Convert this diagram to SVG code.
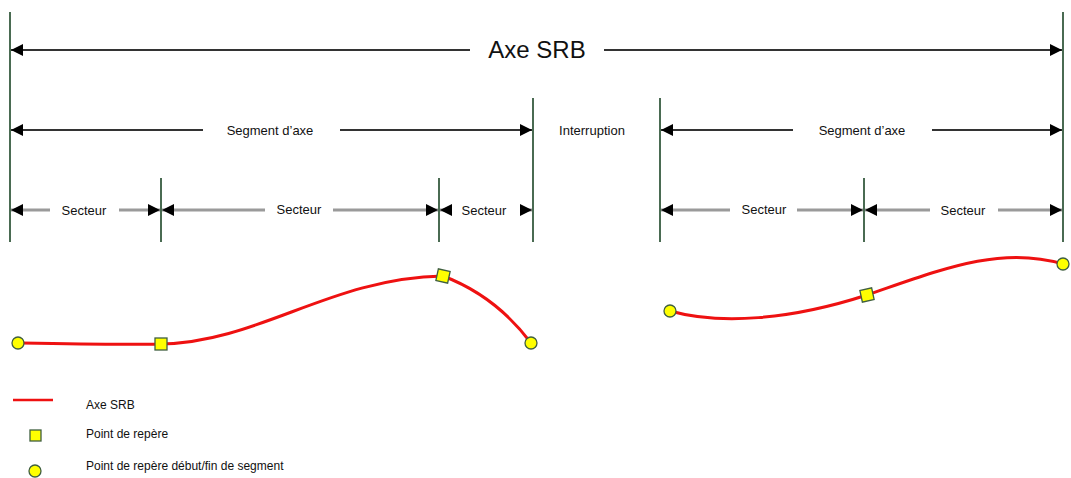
<svg xmlns="http://www.w3.org/2000/svg" width="1071" height="478" viewBox="0 0 1071 478">
<style>
.tick{stroke:#4a6b52;stroke-width:2}
.dim{stroke:#333;stroke-width:2;fill:none}
.sec{stroke:#9a9a9a;stroke-width:3;fill:none}
.t{font-family:"Liberation Sans",Arial,sans-serif;fill:#111}
.axe{stroke:#ee1111;stroke-width:3;fill:none}
.pt{fill:#ffff00;stroke:#3f5f3f;stroke-width:1.3}
</style>
<defs>
<marker id="ah" viewBox="0 0 10 10" refX="10" refY="5" markerWidth="12" markerHeight="14" markerUnits="userSpaceOnUse" orient="auto-start-reverse">
<path d="M0,0 L10,5 L0,10 Z" fill="#000"/>
</marker>
</defs>
<g id="ticks">
<line class="tick" x1="10" y1="12" x2="10" y2="242"/>
<line class="tick" x1="1063" y1="12" x2="1063" y2="242"/>
<line class="tick" x1="533" y1="98" x2="533" y2="242"/>
<line class="tick" x1="660" y1="98" x2="660" y2="242"/>
<line class="tick" x1="161" y1="178" x2="161" y2="242"/>
<line class="tick" x1="439" y1="178" x2="439" y2="242"/>
<line class="tick" x1="864" y1="178" x2="864" y2="242"/>
</g>
<g id="connectors">
<line class="dim" x1="11" y1="50" x2="470" y2="50" marker-start="url(#ah)"/>
<line class="dim" x1="604" y1="50" x2="1062" y2="50" marker-end="url(#ah)"/>
<line class="dim" x1="11" y1="130" x2="203" y2="130" marker-start="url(#ah)"/>
<line class="dim" x1="340" y1="130" x2="532" y2="130" marker-end="url(#ah)"/>
<line class="dim" x1="661" y1="130" x2="793" y2="130" marker-start="url(#ah)"/>
<line class="dim" x1="932" y1="130" x2="1062" y2="130" marker-end="url(#ah)"/>
<line class="sec" x1="11" y1="210" x2="50" y2="210" marker-start="url(#ah)"/>
<line class="sec" x1="119" y1="210" x2="160" y2="210" marker-end="url(#ah)"/>
<line class="sec" x1="162" y1="210" x2="265" y2="210" marker-start="url(#ah)"/>
<line class="sec" x1="333" y1="210" x2="438" y2="210" marker-end="url(#ah)"/>
<line class="sec" x1="440" y1="210" x2="448" y2="210" marker-start="url(#ah)"/>
<line class="sec" x1="520" y1="210" x2="532" y2="210" marker-end="url(#ah)"/>
<line class="sec" x1="661" y1="210" x2="730" y2="210" marker-start="url(#ah)"/>
<line class="sec" x1="797" y1="210" x2="863" y2="210" marker-end="url(#ah)"/>
<line class="sec" x1="865" y1="210" x2="930" y2="210" marker-start="url(#ah)"/>
<line class="sec" x1="998" y1="210" x2="1062" y2="210" marker-end="url(#ah)"/>
</g>
<g id="labels">
<text class="t" x="537" y="58" font-size="24" text-anchor="middle">Axe SRB</text>
<text class="t" x="270" y="135" font-size="13" text-anchor="middle">Segment d’axe</text>
<text class="t" x="592" y="135" font-size="13" text-anchor="middle">Interruption</text>
<text class="t" x="862" y="135" font-size="13" text-anchor="middle">Segment d’axe</text>
<text class="t" x="84" y="215" font-size="13" text-anchor="middle">Secteur</text>
<text class="t" x="299" y="214" font-size="13" text-anchor="middle">Secteur</text>
<text class="t" x="484" y="215" font-size="13" text-anchor="middle">Secteur</text>
<text class="t" x="764" y="214" font-size="13" text-anchor="middle">Secteur</text>
<text class="t" x="963" y="215" font-size="13" text-anchor="middle">Secteur</text>
</g>
<g id="axe-left">
<path class="axe" d="M18,343 C70,344 120,345 161,344 C260,342 330,278 443,276 C480,290 510,315 531,343"/>
<circle class="pt" cx="18" cy="343" r="6"/>
<rect class="pt" x="155" y="338" width="12" height="12"/>
<rect class="pt" x="437" y="270" width="12" height="12" transform="rotate(12 443 276)"/>
<circle class="pt" cx="531" cy="343" r="6"/>
</g>
<g id="axe-right">
<path class="axe" d="M670,311 C720,325 790,320 867,295 C940,270 1000,245 1063,264"/>
<circle class="pt" cx="670" cy="311" r="6"/>
<rect class="pt" x="861" y="289" width="12" height="12" transform="rotate(-12 867 295)"/>
<circle class="pt" cx="1063" cy="264" r="6"/>
</g>
<g id="legend">
<line x1="13" y1="400" x2="53" y2="400" stroke="#ee1111" stroke-width="2.5"/>
<text class="t" x="86" y="409" font-size="12">Axe SRB</text>
<rect class="pt" x="30" y="430" width="11" height="11"/>
<text class="t" x="86" y="438" font-size="12">Point de repère</text>
<circle class="pt" cx="35" cy="471" r="6"/>
<text class="t" x="86" y="470" font-size="12">Point de repère début/fin de segment</text>
</g>
</svg>
